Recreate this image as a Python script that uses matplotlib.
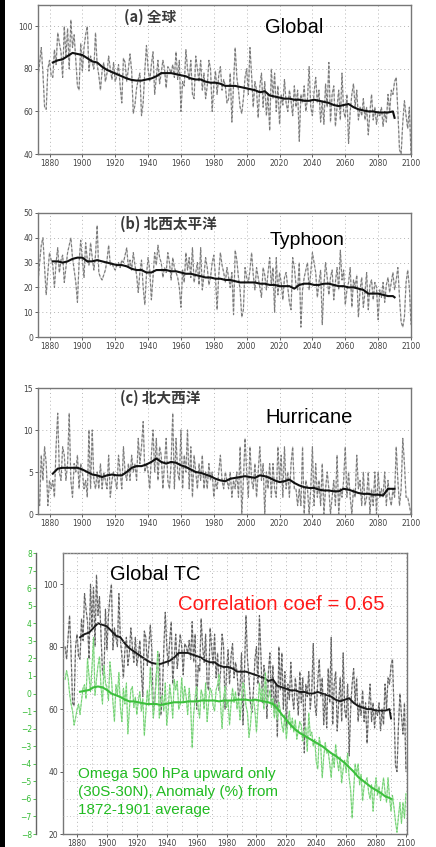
import numpy as np
import matplotlib
matplotlib.use("Agg")
import matplotlib.pyplot as plt
from matplotlib.patches import Rectangle

# ---------------- data ----------------
years = np.arange(1872, 2101)
smooth_years = list(range(1882, 2090, 3)) + [2090]

global_tc = [
    80, 76, 83, 90, 78, 62, 61, 80, 84, 77,
    76, 89, 82, 97, 92, 88, 76, 100, 86, 99,
    80, 103, 90, 96, 84, 72, 70, 92, 79, 90,
    96, 100, 79, 86, 83, 80, 97, 82, 77, 70,
    79, 83, 74, 78, 86, 80, 75, 83, 74, 77,
    82, 72, 64, 85, 83, 74, 80, 87, 79, 59,
    63, 71, 75, 78, 58, 64, 79, 91, 80, 74,
    82, 88, 68, 76, 84, 73, 78, 84, 80, 71,
    81, 80, 78, 82, 76, 88, 75, 84, 60, 74,
    72, 89, 80, 75, 84, 68, 66, 86, 80, 74,
    84, 70, 78, 66, 72, 84, 80, 60, 72, 79,
    68, 77, 81, 70, 75, 72, 64, 66, 78, 55,
    72, 90, 76, 70, 62, 59, 66, 76, 80, 68,
    90, 77, 62, 74, 70, 57, 72, 78, 62, 74,
    58, 68, 51, 80, 66, 78, 60, 72, 54, 68,
    63, 75, 64, 60, 70, 65, 58, 72, 62, 70,
    46, 68, 64, 72, 60, 66, 81, 62, 58, 69,
    76, 64, 70, 55, 65, 54, 73, 62, 83, 55,
    68, 72, 53, 62, 70, 56, 78, 60, 57, 68,
    45, 60, 68, 73, 62, 70, 56, 62, 58, 66,
    56, 62, 49, 60, 68, 56, 62, 54, 60, 58,
    62, 53, 60, 55, 68, 60, 70, 68, 74, 76,
    60, 42, 40, 55, 65, 58, 52, 62, 40,
]
global_smooth = [
    83, 84, 84.5, 86, 87.5, 87, 86.5, 85, 83.5, 83,
    81, 79.5, 78.5, 77.5, 76.5, 75.5, 74.8, 74.5, 74.5, 75,
    75.5, 76.5, 78, 78, 78, 77.5, 77, 76.5, 75.5, 75,
    75, 74, 73.5, 73.5, 73, 72, 72, 72, 71.5, 71,
    70.5, 70, 69, 69.5, 67.5, 67, 66.5, 66, 66, 65.5,
    65.5, 65, 65, 65.5, 65, 64.5, 64, 63, 62.5, 63,
    63.5, 62, 61, 60.5, 60, 60, 59.5, 59.5, 59.5, 60,
    57,
]

typhoon = [
    21, 22, 30, 37, 40, 28, 17, 26, 34, 31,
    29, 20, 30, 36, 26, 31, 33, 22, 28, 34,
    37, 40, 32, 27, 22, 14, 30, 39, 31, 24,
    38, 31, 29, 38, 32, 27, 33, 45, 26, 24,
    23, 25, 27, 31, 37, 29, 30, 28, 27, 29,
    30, 28, 31, 30, 33, 36, 28, 31, 27, 34,
    29, 25, 18, 26, 31, 20, 13, 25, 32, 27,
    15, 24, 34, 29, 37, 32, 30, 24, 28, 26,
    34, 30, 23, 32, 28, 26, 24, 20, 12, 27,
    22, 34, 27, 32, 24, 36, 22, 26, 30, 21,
    36, 19, 25, 32, 28, 21, 24, 30, 33, 24,
    11, 25, 34, 29, 26, 22, 28, 24, 20, 26,
    9, 35, 31, 24, 19, 8, 11, 28, 24, 22,
    27, 34, 25, 19, 28, 24, 20, 16, 28, 25,
    19, 26, 32, 21, 28, 10, 32, 17, 26, 22,
    15, 24, 26, 20, 14, 11, 32, 28, 21, 19,
    30, 4, 19, 24, 27, 30, 19, 26, 34, 30,
    26, 16, 22, 27, 5, 21, 30, 24, 17, 24,
    27, 15, 22, 28, 19, 35, 23, 27, 13, 19,
    22, 28, 12, 23, 20, 25, 8, 19, 24, 12,
    18, 26, 11, 21, 23, 15, 22, 20, 7, 19,
    16, 22, 14, 21, 24, 18, 22, 26, 19, 23,
    28, 16, 6, 4, 8, 22, 27, 20, 5,
]
typhoon_smooth = [
    30.5, 30.5, 30, 30.5, 31.5, 32, 32, 30.5, 30.5, 31,
    30.5, 30, 29.5, 29, 29, 28.5, 27.5, 27, 27, 26,
    26, 27, 27, 27, 26.5, 26.5, 26, 25.5, 25.5, 25,
    24.5, 24, 24, 23.5, 23.5, 23, 23, 22.5, 22, 22,
    22, 22, 21.5, 21.5, 21, 21, 20.5, 20.5, 20.5, 19.5,
    21, 21.5, 21.5, 21, 21, 21.5, 21.5, 21, 20.5, 20.5,
    20, 20, 19.5, 19, 17.5, 17.5, 17.5, 17, 16.5, 16.5,
    16,
]

hurricane = [
    2, 2, 1, 7, 4, 8, 6, 1, 4, 3,
    4, 2, 8, 12, 5, 4, 8, 7, 4, 6,
    12, 4, 2, 6, 5, 7, 3, 6, 5, 3,
    4, 2, 10, 3, 10, 4, 3, 5, 3, 6,
    3, 5, 4, 3, 7, 2, 4, 5, 4, 3,
    7, 5, 3, 8, 5, 4, 6, 4, 7, 5,
    6, 4, 9, 6, 8, 11, 5, 6, 5, 3,
    7, 10, 5, 9, 4, 8, 7, 3, 6, 9,
    4, 3, 6, 12, 3, 9, 5, 4, 10, 3,
    7, 5, 10, 3, 8, 2, 7, 5, 3, 6,
    4, 7, 3, 5, 3, 6, 4, 5, 2, 4,
    3, 5, 7, 4, 3, 5, 4, 3, 5, 2,
    4, 3, 5, 2, 8, 0, 4, 9, 5, 2,
    8, 4, 3, 6, 2, 5, 8, 4, 6, 0,
    5, 3, 6, 2, 6, 3, 2, 8, 4, 7,
    2, 8, 3, 5, 2, 6, 8, 3, 3, 1,
    3, 1, 8, 0, 4, 3, 0, 3, 8, 1,
    6, 2, 4, 1, 6, 0, 3, 5, 3, 0,
    2, 4, 1, 7, 0, 3, 2, 4, 8, 2,
    5, 2, 0, 3, 2, 7, 3, 4, 1, 5,
    1, 2, 5, 0, 3, 1, 5, 0, 5, 2,
    3, 2, 5, 1, 4, 2, 1, 3, 2, 8,
    4, 1, 3, 9, 6, 2, 2, 1, 0,
]
hurricane_smooth = [
    4.8, 5.4, 5.5, 5.5, 5.5, 5.5, 5.3, 5.0, 4.7, 4.6,
    4.4, 4.6, 4.7, 4.6, 4.6, 5.0, 5.5, 5.7, 5.7, 5.9,
    6.2, 6.6, 6.2, 6.0, 6.2, 6.1, 5.8, 5.6, 5.3, 5.0,
    4.9, 4.7, 4.5, 4.2, 4.0, 3.9, 4.2, 4.3, 4.4, 4.5,
    4.4, 4.3, 4.6, 4.5, 4.3, 4.0, 3.8, 3.9, 4.1, 3.7,
    3.4, 3.2, 3.1, 3.1, 2.9, 2.8, 2.8, 2.7, 2.7, 3.0,
    2.9, 2.7, 2.5, 2.4, 2.4, 2.3, 2.3, 2.2, 3.0, 3.0,
    3.0,
]

omega = [
    0.8, 1.3, 0.9, 0.0, -0.6, -1.0, -1.8, -1.4, -0.9, -0.6,
    -1.2, -0.4, 0.3, 0.5, -0.3, 2.0, 1.0, 0.1, 1.5, 3.2,
    -0.1, 0.8, 1.6, 2.1, 0.4, -0.6, 1.6, 0.6, 0.3, -0.4,
    1.8, 0.9, -0.5, -1.6, 0.5, -0.1, 1.2, -0.8, -1.6, 0.3,
    -0.6, 0.6, -2.3, -0.9, 0.2, 0.4, -0.8, -0.2, -1.2, -0.4,
    0.1, -1.0, -0.3, -2.4, -1.1, 0.2, -0.7, 1.5, 0.3, -1.4,
    -0.5, 0.9, 2.4, -1.4, -0.4, -0.1, -1.0, 0.6, -1.8, -0.9,
    0.5, -0.3, -1.4, 0.8, 0.2, 0.7, -0.9, -0.6, 0.9, -0.5,
    0.4, -0.2, -1.2, 0.3, -0.7, -3.1, -1.2, -0.2, 0.4, -0.8,
    -1.4, 0.2, -0.1, -0.9, 0.6, -1.6, -0.5, 0.3, 0.1, -0.7,
    -1.0, 0.2, 0.5, 1.1, -0.6, -2.0, -0.3, 0.4, -0.8, -0.4,
    -1.8, -0.6, 0.3, -0.5, 0.1, -0.9, -0.2, -1.5, -0.4, 0.6,
    0.3, -0.7, -1.1, -2.5, -1.8, -0.6, -0.3, -1.0, -2.2, -0.8,
    0.6, -0.4, 0.3, -0.9, 1.2, -0.6, -0.2, 0.2, -0.8, -0.3,
    -1.4, -0.6, -1.5, -0.5, -1.0, -1.8, -2.2, -1.2, -2.6, -1.6,
    -1.0, -2.0, -1.4, -2.2, -1.5, -2.6, -2.1, -1.6, -1.8, -2.7,
    -2.2, -1.9, -3.3, -1.1, -2.4, -2.2, -3.0, -2.6, -3.9, -4.3,
    -2.5, -3.0, -4.8, -3.6, -2.8, -3.4, -3.3, -4.0, -4.8, -3.5,
    -4.2, -2.9, -3.8, -4.4, -3.6, -5.1, -4.3, -3.8, -4.5, -3.4,
    -4.8, -5.5, -7.1, -5.6, -4.0, -4.6, -4.0, -5.2, -4.6, -6.1,
    -5.3, -5.0, -4.8, -5.6, -6.0, -5.2, -6.7, -5.5, -4.8, -5.8,
    -5.3, -6.1, -5.5, -4.8, -5.6, -6.2, -4.8, -5.9, -6.7, -5.8,
    -6.5, -7.3, -7.9, -7.0, -6.2, -7.4, -6.2, -7.1, -5.7,
]
omega_smooth = [
    0.1, 0.15, 0.2, 0.35, 0.4, 0.35, 0.2, 0.0, -0.1, -0.2,
    -0.35, -0.45, -0.45, -0.5, -0.55, -0.6, -0.6, -0.6, -0.65, -0.6,
    -0.55, -0.5, -0.5, -0.5, -0.45, -0.45, -0.45, -0.4, -0.4, -0.4,
    -0.4, -0.45, -0.4, -0.4, -0.4, -0.35, -0.35, -0.35, -0.4, -0.35,
    -0.4, -0.45, -0.5, -0.6, -0.85, -1.2, -1.5, -1.8, -2.05, -2.25,
    -2.4, -2.55, -2.7, -2.85, -3.0, -3.2, -3.4, -3.55, -3.75, -3.95,
    -4.2, -4.45, -4.75, -4.95, -5.15, -5.35, -5.5, -5.65, -5.85, -5.95,
    -6.0,
]

x_ticks = list(range(1880, 2101, 20))

# ---------------- figure ----------------
W, H = 436, 847
fig = plt.figure(figsize=(W / 100, H / 100), dpi=100)
fig.patch.set_facecolor("white")

CJK = ["Noto Sans CJK JP", "DejaVu Sans"]
SANS = ["Liberation Sans", "DejaVu Sans"]
TICKC = "#444444"


def px_axes(l, t, r, b):
    return fig.add_axes([l / W, 1 - b / H, (r - l) / W, (b - t) / H])


def style(ax, ylim, yticks, xlim):
    ax.set_xlim(*xlim)
    ax.set_ylim(*ylim)
    ax.set_xticks(x_ticks)
    ax.set_yticks(yticks)
    ax.tick_params(labelsize=5.5, colors=TICKC, length=2, width=0.6, pad=1.5)
    for s in ax.spines.values():
        s.set_color("#777777")
        s.set_linewidth(1.0)
    ax.grid(True, linestyle=(0, (1, 3)), color="#b5b5b5", linewidth=0.7)
    ax.set_axisbelow(True)


def noisy(ax, y, color_bg="#d0d0d0", color_fg="#7a7a7a"):
    ax.plot(years, y, color=color_bg, lw=0.9, zorder=2)
    ax.plot(years, y, color=color_fg, lw=0.8, linestyle=(0, (2.5, 1.8)), zorder=3)


def smooth(ax, y, color="#111111", lw=1.5):
    ax.plot(smooth_years, y, color=color, lw=lw, zorder=4)


XL = (1873, 2100)

# panel a
axA = px_axes(38, 5, 411, 154)
style(axA, (40, 110), [40, 60, 80, 100], XL)
noisy(axA, global_tc)
smooth(axA, global_smooth)

# panel b
axB = px_axes(38, 213, 411, 337)
style(axB, (0, 50), [0, 10, 20, 30, 40, 50], XL)
noisy(axB, typhoon)
smooth(axB, typhoon_smooth)

# panel c
axC = px_axes(38, 388, 411, 514)
style(axC, (0, 15), [0, 5, 10, 15], XL)
noisy(axC, hurricane)
smooth(axC, hurricane_smooth)

# panel d
axD = px_axes(63, 553, 407, 834)
style(axD, (20, 110), [20, 40, 60, 80, 100], (1870.6, 2100.7))
axD.grid(False)
axD.set_xticks(list(range(1870, 2101, 10)), minor=True)
axD.tick_params(which="minor", length=0)
axD.grid(True, which="both", axis="x", linestyle=(0, (1, 3)), color="#b5b5b5", linewidth=0.7)
noisy(axD, global_tc, color_bg="#c0c0c0", color_fg="#606060")
smooth(axD, global_smooth, color="#1a1a1a", lw=1.4)

axG = axD.twinx()
axG.set_ylim(-8, 8)
axG.set_xlim(1870.6, 2100.7)
axG.yaxis.set_ticks_position("left")
axG.yaxis.set_label_position("left")
axG.spines["left"].set_position(("axes", (36 - 63) / 344))
axG.spines["left"].set_visible(True)
axG.spines["left"].set_color("#666666")
axG.spines["left"].set_linewidth(1.0)
for s in ["right", "top", "bottom"]:
    axG.spines[s].set_visible(False)
axG.set_yticks(list(range(-8, 9)))
axG.tick_params(axis="y", labelsize=5.5, colors="#33bb33", length=2, width=0.6, pad=1)
axG.grid(True, axis="y", linestyle=(0, (1, 3)), color="#b5b5b5", linewidth=0.6)
axG.plot(years, omega, color="#a8e4a8", lw=0.9, zorder=2)
axG.plot(years, omega, color="#6ccf6c", lw=0.6, linestyle=(0, (3, 2)), zorder=3)
axG.plot(smooth_years, omega_smooth, color="#3cbf3c", lw=1.5, zorder=4)

# ---------------- texts ----------------
def ftext(x, y, s, **kw):
    fig.text(x / W, 1 - y / H, s, **kw)


ftext(124, 17, "(a) 全球", fontsize=10.5, family=CJK, weight="bold", color="#3a3a3a", va="center")
ftext(120, 224, "(b) 北西太平洋", fontsize=10.5, family=CJK, weight="bold", color="#3a3a3a", va="center")
ftext(120, 398, "(c) 北大西洋", fontsize=10.5, family=CJK, weight="bold", color="#3a3a3a", va="center")

ftext(265, 33, "Global", fontsize=14.5, family=SANS, color="black", va="baseline")
ftext(270, 245, "Typhoon", fontsize=14, family=SANS, color="black", va="baseline")
ftext(265, 423, "Hurricane", fontsize=14.5, family=SANS, color="black", va="baseline")

ftext(110, 580, "Global TC", fontsize=14.5, family=SANS, color="black", va="baseline")
ftext(178, 610, "Correlation coef = 0.65", fontsize=14.7, family=SANS, color="#ff1a1a", va="baseline")
GREEN_T = "#22bb22"
ftext(78, 778, "Omega 500 hPa upward only", fontsize=11, family=SANS, color=GREEN_T, va="baseline")
ftext(78, 796, "(30S-30N), Anomaly (%) from", fontsize=11, family=SANS, color=GREEN_T, va="baseline")
ftext(78, 814, "1872-1901 average", fontsize=11, family=SANS, color=GREEN_T, va="baseline")

# left black border bar
fig.patches.append(Rectangle((0, 0), 5 / W, 1, transform=fig.transFigure,
                             facecolor="black", edgecolor="none", zorder=10))

fig.savefig("out.png", dpi=100, facecolor="white")
